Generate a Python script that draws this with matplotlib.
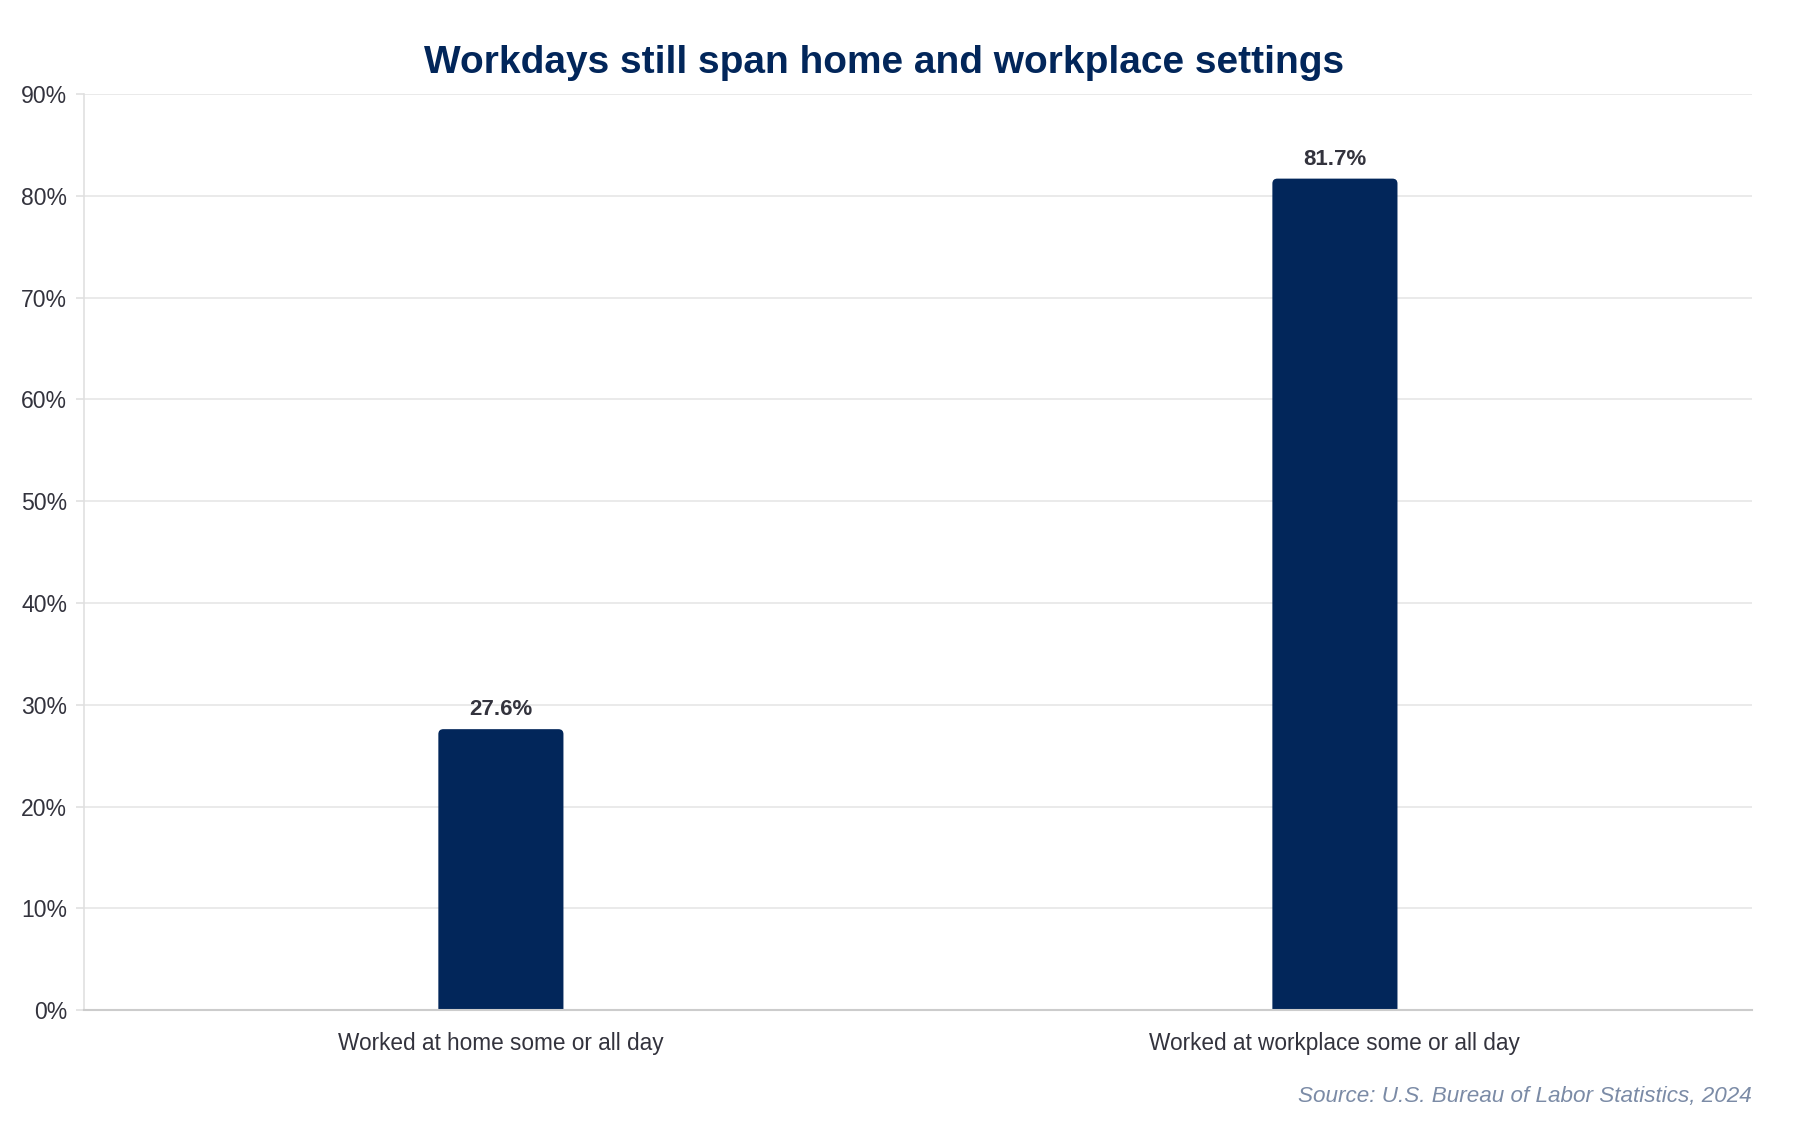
import matplotlib.pyplot as plt
from matplotlib.patches import FancyBboxPatch
from matplotlib.ticker import FuncFormatter

# data
categories = ["Worked at home some or all day", "Worked at workplace some or all day"]
shares = [27.6, 81.7]
y_ticks = [0, 10, 20, 30, 40, 50, 60, 70, 80, 90]

navy = "#02265a"
text_grey = "#33333d"

plt.rcParams['font.family'] = ['Liberation Sans', 'DejaVu Sans']

fig = plt.figure(figsize=(18, 11.25), dpi=100)
ax = fig.add_axes([0.0466, 0.1022, 0.9267, 0.8141])

xpos = list(range(len(categories)))
bars = ax.bar(xpos, shares, width=0.15, color=navy, zorder=2)

ax.set_xlim(-0.5, len(categories) - 0.5)
ax.set_ylim(0, 90)

# swap the plain bars for ones with slightly rounded tops
fig.canvas.draw()
px_x = ax.transData.transform((1, 0))[0] - ax.transData.transform((0, 0))[0]
px_y = ax.transData.transform((0, 1))[1] - ax.transData.transform((0, 0))[1]
r_px = 5
for b in bars:
    x0, w, h = b.get_x(), b.get_width(), b.get_height()
    r = r_px / px_x
    box = FancyBboxPatch((x0, -2), w, h + 2,
                         boxstyle=f"round,pad=0,rounding_size={r}",
                         mutation_aspect=px_x / px_y,
                         facecolor=navy, edgecolor="none", zorder=2)
    ax.add_patch(box)
    b.set_visible(False)

for x, v in zip(xpos, shares):
    ax.annotate(f"{v}%", (x, v), xytext=(0, 14), textcoords="offset points",
                ha="center", va="center", fontsize=16, fontweight="bold",
                color=text_grey)

ax.set_yticks(y_ticks)
ax.yaxis.set_major_formatter(FuncFormatter(lambda v, p: f"{v:.0f}%"))
ax.set_xticks(xpos)
ax.set_xticklabels(categories)

ax.grid(axis="y", color="#e6e6e6", linewidth=1.2, zorder=0)
ax.set_axisbelow(True)

for s in ["top", "right"]:
    ax.spines[s].set_visible(False)
ax.spines["left"].set_color("#e0e0e0")
ax.spines["left"].set_linewidth(1.2)
ax.spines["bottom"].set_color("#cccccc")
ax.spines["bottom"].set_linewidth(1.5)
ax.spines["bottom"].set_zorder(3)

ax.tick_params(axis="y", length=6, width=1.2, color="#e0e0e0", pad=6,
               labelsize=16.6, labelcolor=text_grey)
ax.tick_params(axis="x", length=0, pad=15.5, labelsize=16.3, labelcolor=text_grey)

fig.text(0.4914, 0.944, "Workdays still span home and workplace settings",
         ha="center", va="center", fontsize=28, fontweight="bold", color=navy)
fig.text(0.9733, 0.0254, "Source: U.S. Bureau of Labor Statistics, 2024",
         ha="right", va="center", fontsize=16.2, style="italic", color="#7b8ba6")

fig.savefig("out.png", dpi=100, facecolor="white")
